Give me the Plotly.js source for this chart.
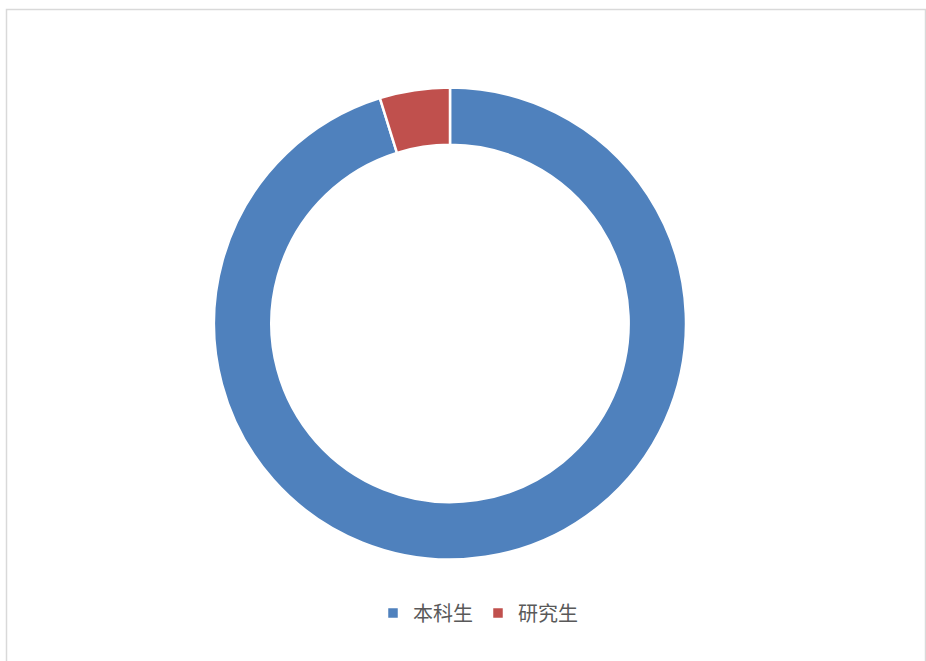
<!DOCTYPE html>
<html>
<head>
<meta charset="utf-8">
<script src="https://cdn.plot.ly/plotly-3.0.1.min.js"></script>
<style>
html,body{margin:0;padding:0;background:#fff;}
#chart{width:926px;height:661px;}
</style>
</head>
<body>
<div id="chart"></div>
<script>
var categories = ["本科生", "研究生"];
var values = [95.2, 4.8];
var colors = ["#4F81BD", "#C0504D"];

var W = 926, H = 661;
var cx = 450, cy = 323.5, r = 236;

var trace = {
  type: "pie",
  labels: categories,
  values: values,
  hole: 0.757,
  sort: false,
  direction: "clockwise",
  rotation: 0,
  textinfo: "none",
  hoverinfo: "label+percent",
  marker: {colors: colors, line: {color: "#FFFFFF", width: 2.5}},
  domain: {
    x: [(cx - r) / W, (cx + r) / W],
    y: [(H - cy - r) / H, (H - cy + r) / H]
  }
};

var layout = {
  width: W,
  height: H,
  margin: {l: 0, r: 0, t: 0, b: 0},
  paper_bgcolor: "#FFFFFF",
  showlegend: true,
  legend: {
    orientation: "h",
    x: 478 / W,
    xanchor: "center",
    y: (H - 613) / H,
    yanchor: "middle",
    font: {family: "Noto Sans CJK SC, sans-serif", size: 20, color: "#595959"},
    itemwidth: 30,
    tracegroupgap: 0
  },
  shapes: [{
    type: "rect",
    xref: "paper", yref: "paper",
    x0: 6.5 / W, x1: 925.5 / W,
    y0: -0.02, y1: (H - 9.5) / H,
    line: {color: "#D9D9D9", width: 1.5},
    fillcolor: "rgba(0,0,0,0)"
  }]
};

Plotly.newPlot("chart", [trace], layout, {displayModeBar: false, staticPlot: true});
</script>
</body>
</html>
